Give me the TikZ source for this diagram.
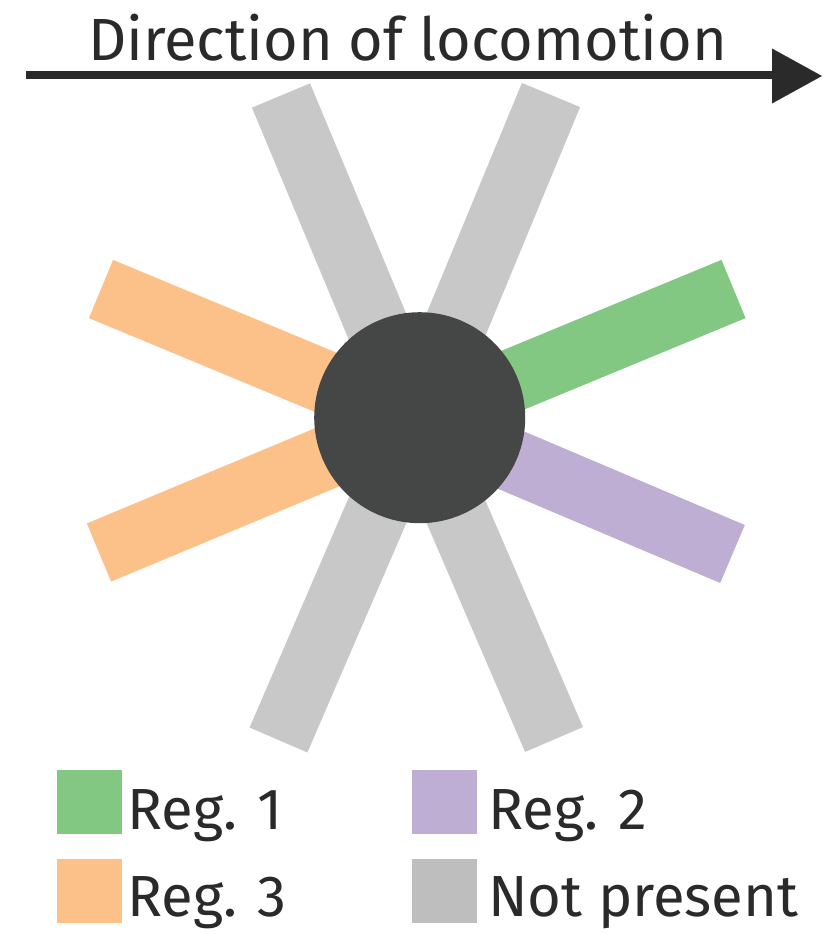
\documentclass[tikz,border=0pt]{standalone}
\usepackage{fontspec}
\setmainfont{Fira Sans}
\definecolor{cgreen}{HTML}{82C782}
\definecolor{cpurple}{HTML}{BEAED4}
\definecolor{corange}{HTML}{FCC189}
\definecolor{cgraybar}{HTML}{C8C8C8}
\definecolor{cgraylg}{HTML}{BEBEBE}
\definecolor{cbody}{HTML}{454746}
\definecolor{cink}{HTML}{2A2A2A}
\begin{document}
\begin{tikzpicture}[x=1pt,y=-1pt,
  bar/.style={line width=63pt,line cap=butt},
  swatch/.style={minimum width=65pt,minimum height=64pt,inner sep=0pt,anchor=north west},
  lgtext/.style={anchor=base west,inner sep=0pt,font=\fontsize{58}{60}\selectfont,text=cink},
]
\useasboundingbox (0,0) rectangle (826,934);
% bar ends
\coordinate (c) at (416.5,420);
\coordinate (oU) at (101,289);
\coordinate (oL) at (99,552.5);
\coordinate (gR) at (733.5,289);
\coordinate (pR) at (732.5,554);
\coordinate (tL) at (281,95.5);
\coordinate (tR) at (551,95);
\coordinate (bL) at (278.5,740);
\coordinate (bR) at (554,739.5);
\draw[bar,cgraybar] (c) -- (tL);
\draw[bar,cgraybar] (c) -- (tR);
\draw[bar,cgraybar] (c) -- (bL);
\draw[bar,cgraybar] (c) -- (bR);
\draw[bar,corange] (c) -- (oU);
\draw[bar,corange] (c) -- (oL);
\draw[bar,cgreen] (c) -- (gR);
\draw[bar,cpurple] (c) -- (pR);
\node[circle,fill=cbody,minimum size=211pt,inner sep=0pt] (body) at (419.7,417.7) {};
% direction arrow
\coordinate (as) at (26,75);
\coordinate (ab) at (773,75);
\draw[cink,line width=7pt] (as) -- (ab);
\fill[cink] (772,48.5) -- (822,76) -- (772,103.5) -- cycle;
\node[anchor=base west,inner sep=0pt,font=\fontsize{59.5}{60}\selectfont,text=cink] (title) at (88,61) {Direction of locomotion};
% legend
\node[swatch,fill=cgreen] (s1) at (57,770) {};
\node[swatch,fill=corange] (s3) at (57,859) {};
\node[swatch,fill=cpurple] (s2) at (411.5,770) {};
\node[swatch,fill=cgraylg] (s4) at (411.5,859) {};
\node[lgtext] (t1) at (127,829) {Reg. 1};
\node[lgtext] (t3) at (127,916) {Reg. 3};
\node[lgtext] (t2) at (488,829) {Reg. 2};
\node[lgtext] (t4) at (488,916.5) {Not present};
\end{tikzpicture}
\end{document}
